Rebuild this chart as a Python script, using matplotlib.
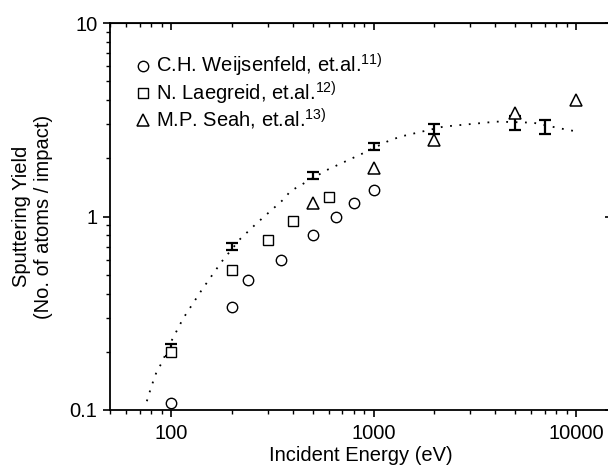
import numpy as np
from matplotlib import pyplot as plt

plt.rcParams['font.family'] = ['Liberation Sans', 'DejaVu Sans']
plt.rcParams['mathtext.default'] = 'regular'

# Weijsenfeld et al. (circles)
x_weij = [100, 200, 240, 350, 500, 650, 800, 1000]
y_weij = [0.109, 0.34, 0.47, 0.60, 0.80, 1.0, 1.17, 1.37]

# Laegreid et al. (squares)
x_laeg = [100, 200, 300, 400, 600]
y_laeg = [0.20, 0.53, 0.76, 0.95, 1.27]

# Seah et al. (triangles)
x_seah = [500, 1000, 2000, 5000, 10000]
y_seah = [1.17, 1.78, 2.49, 3.43, 4.02]

# points with error bars
x_err = [100, 200, 500, 1000, 2000, 5000, 7000]
y_err = [0.205, 0.70, 1.64, 2.30, 2.86, 3.06, 2.92]
e_err = [0.015, 0.03, 0.07, 0.09, 0.17, 0.24, 0.24]

# dotted curve
x_curve = [76, 80, 85, 90, 100, 115, 142, 178, 219, 265, 365, 387, 587,
           891, 1162, 1352, 2213, 4054, 6150, 8340, 10000]
y_curve = [0.111, 0.132, 0.158, 0.175, 0.225, 0.298, 0.418, 0.585, 0.764,
           0.924, 1.245, 1.35, 1.74, 2.13, 2.44, 2.59, 2.92, 3.10, 3.06,
           2.86, 2.76]

fs = 14.5

fig = plt.figure(figsize=(6.08, 4.70), dpi=100)
ax = fig.add_axes([0.1809, 0.1277, 0.8252, 0.8228])

ax.plot(x_curve, y_curve, color='black', lw=1.3, ls=(0, (1, 4.2)))
ax.errorbar(x_err, y_err, yerr=e_err, fmt='none', ecolor='black',
            elinewidth=1.6, capsize=4.5, capthick=1.6)
ax.plot(x_weij, y_weij, 'o', ms=7.5, mfc='white', mec='black', mew=1.0,
        ls='none', label='C.H. Weijsenfeld, et.al.$^{11)}$')
ax.plot(x_laeg, y_laeg, 's', ms=6.5, mfc='white', mec='black', mew=1.0,
        ls='none', label='N. Laegreid, et.al.$^{12)}$')
ax.plot(x_seah, y_seah, '^', ms=9, mfc='white', mec='black', mew=1.1,
        ls='none', label='M.P. Seah, et.al.$^{13)}$')

ax.set_xscale('log')
ax.set_yscale('log')
ax.set_xlim(50, 15000)
ax.set_ylim(0.1, 10)
ax.set_xticks([100, 1000, 10000])
ax.set_xticklabels(['100', '1000', '10000'])
ax.set_yticks([0.1, 1, 10])
ax.set_yticklabels(['0.1', '1', '10'])

for s in ax.spines.values():
    s.set_linewidth(1.3)
ax.tick_params(which='major', direction='out', length=5, width=1.2,
               labelsize=fs, pad=4)
ax.tick_params(which='minor', direction='out', length=3, width=1.0)
ax.tick_params(axis='x', which='major', pad=5)

# mirrored ticks pointing inwards on top and right
axt = ax.secondary_xaxis('top')
axt.set_xticks([100, 1000, 10000])
axt.tick_params(which='major', direction='in', length=5, width=1.2,
                labeltop=False)
axt.tick_params(which='minor', direction='in', length=3, width=1.0)
axr = ax.secondary_yaxis('right')
axr.set_yticks([0.1, 1, 10])
axr.tick_params(which='major', direction='in', length=5, width=1.2,
                labelright=False)
axr.tick_params(which='minor', direction='in', length=3, width=1.0)

ax.set_xlabel('Incident Energy (eV)', fontsize=fs, labelpad=2)
ax.set_ylabel('Sputtering Yield\n(No. of atoms / impact)', fontsize=fs,
              labelpad=12, linespacing=1.2)

ax.legend(loc='upper left', bbox_to_anchor=(0.05, 0.925), frameon=False,
          fontsize=fs, borderaxespad=0, borderpad=0, handlelength=0.8,
          handletextpad=0.22, labelspacing=0.0)

fig.savefig('out.png', dpi=100)
